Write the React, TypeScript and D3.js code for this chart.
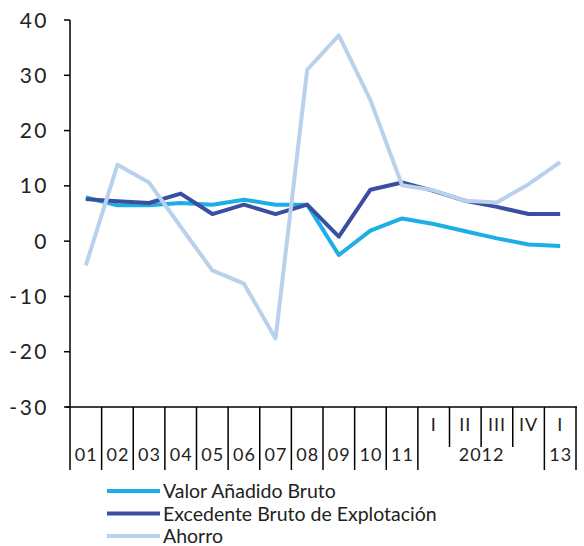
import React from "react";
import * as d3 from "d3";

const categories = ["01","02","03","04","05","06","07","08","09","10","11","2012-I","2012-II","2012-III","2012-IV","2013-I"];
const valor = [7.9, 6.5, 6.5, 6.9, 6.6, 7.5, 6.6, 6.6, -2.5, 1.9, 4.1, 3.1, 1.8, 0.5, -0.6, -0.9];
const excedente = [7.6, 7.2, 6.9, 8.6, 4.9, 6.6, 4.9, 6.6, 0.8, 9.3, 10.6, 9.1, 7.3, 6.2, 4.9, 4.9];
const ahorro = [-4.4, 13.8, 10.6, 2.6, -5.3, -7.7, -17.6, 31.0, 37.2, 25.5, 10.1, 9.2, 7.3, 7.0, 10.3, 14.3];
const yTicks = [40, 30, 20, 10, 0, -10, -20, -30];
const quarterLabels = ["", "", "", "", "", "", "", "", "", "", "", "I", "II", "III", "IV", "I"];
const groups = [
  { label: "01", from: 0, to: 0 },
  { label: "02", from: 1, to: 1 },
  { label: "03", from: 2, to: 2 },
  { label: "04", from: 3, to: 3 },
  { label: "05", from: 4, to: 4 },
  { label: "06", from: 5, to: 5 },
  { label: "07", from: 6, to: 6 },
  { label: "08", from: 7, to: 7 },
  { label: "09", from: 8, to: 8 },
  { label: "10", from: 9, to: 9 },
  { label: "11", from: 10, to: 10 },
  { label: "2012", from: 11, to: 14 },
  { label: "13", from: 15, to: 15 },
];
const seriesNames = ["Valor Añadido Bruto", "Excedente Bruto de Explotación", "Ahorro"];
const seriesColors = ["#1eaee6", "#3a4fa0", "#b9d1ec"];

const FONT = "Lato, 'Open Sans', sans-serif";

export default function App() {
  const W = 584, H = 546;
  const left = 70, right = 576, top = 20, bottom = 407;
  const x = d3.scaleBand<string>().domain(categories).range([left, right]).padding(0);
  const y = d3.scaleLinear().domain([-30, 40]).range([bottom, top]);
  const bw = x.bandwidth();
  const cx = (i: number) => (x(categories[i]) as number) + bw / 2;
  const series = [valor, excedente, ahorro];
  const line = d3.line<number>().x((_, i) => cx(i)).y((v) => y(v));

  const fullSeps: number[] = [];
  groups.forEach((g) => fullSeps.push(x(categories[g.from]) as number));
  fullSeps.push(right);
  const shortSeps: number[] = [];
  groups.forEach((g) => {
    for (let i = g.from + 1; i <= g.to; i++) shortSeps.push(x(categories[i]) as number);
  });

  return (
    <svg width={W} height={H} style={{ position: "absolute", left: 0, top: 0 }} fontFamily={FONT}>
      <rect width={W} height={H} fill="#fff" />
      <line x1={left} x2={left} y1={top} y2={bottom} stroke="#000" strokeWidth={1.5} />
      {yTicks.map((t) => (
        <g key={t}>
          <line x1={left - 6} x2={left} y1={y(t)} y2={y(t)} stroke="#000" strokeWidth={1.5} />
          <text x={49} y={y(t)} dy="0.36em" textAnchor="end" fontSize={21} letterSpacing={2.5} fill="#222">
            {t}
          </text>
        </g>
      ))}
      <line x1={left - 4} x2={right + 1} y1={bottom} y2={bottom} stroke="#000" strokeWidth={1.5} />
      {fullSeps.map((s, i) => (
        <line key={"f" + i} x1={s} x2={s} y1={bottom} y2={470} stroke="#000" strokeWidth={1.5} />
      ))}
      {shortSeps.map((s, i) => (
        <line key={"s" + i} x1={s} x2={s} y1={bottom} y2={447} stroke="#000" strokeWidth={1.5} />
      ))}
      {quarterLabels.map((q, i) =>
        q ? (
          <text key={"q" + i} x={cx(i)} y={425} dy="0.36em" textAnchor="middle" fontSize={18} letterSpacing={1} fill="#222">
            {q}
          </text>
        ) : null
      )}
      {groups.map((g) => {
        const x0 = x(categories[g.from]) as number;
        const x1 = (x(categories[g.to]) as number) + bw;
        return (
          <text key={g.label} x={(x0 + x1) / 2 + 0.5} y={455} dy="0.36em" textAnchor="middle" fontSize={18} letterSpacing={1} fill="#222">
            {g.label}
          </text>
        );
      })}
      {series.map((s, k) => (
        <path key={k} d={line(s) as string} fill="none" stroke={seriesColors[k]} strokeWidth={4} strokeLinejoin="round" />
      ))}
      {seriesNames.map((n, k) => (
        <g key={n}>
          <line x1={107} x2={160} y1={491 + k * 22.5} y2={491 + k * 22.5} stroke={seriesColors[k]} strokeWidth={4} />
          <text x={163} y={491 + k * 22.5} dy="0.36em" fontSize={19.5} fill="#222">
            {n}
          </text>
        </g>
      ))}
    </svg>
  );
}
